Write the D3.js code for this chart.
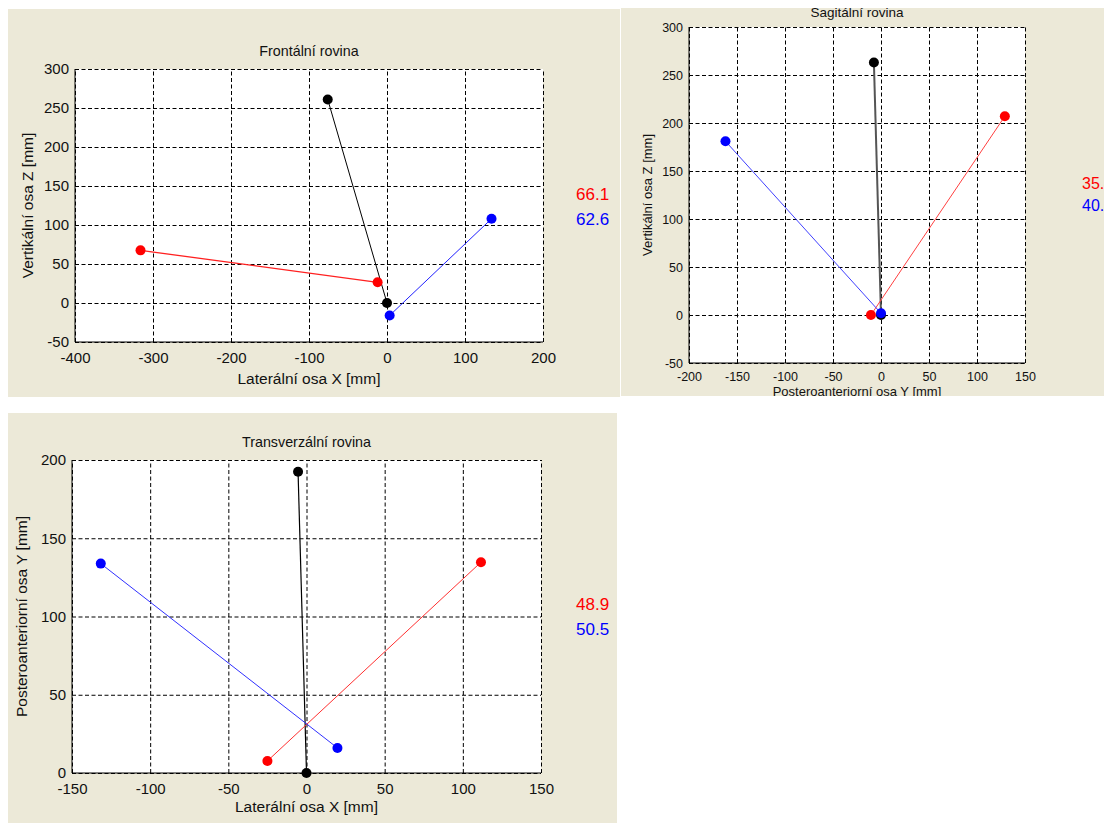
<!DOCTYPE html>
<html>
<head>
<meta charset="utf-8">
<script src="https://cdn.jsdelivr.net/npm/d3@7"></script>
<style>
  body { margin: 0; background: #fff; }
  text { font-family: "Liberation Sans", Arial, sans-serif; }
</style>
</head>
<body>
<svg width="1104" height="823"></svg>
<script>
// frontal plane (X vs Z)
var frontalBlack = [[-76, 261], [0, 0]];
var frontalRed = [[-316, 67.5], [-12, 26.5]];
var frontalBlue = [[3.4, -16], [134, 108]];
var frontalXTicks = [-400, -300, -200, -100, 0, 100, 200];
var frontalYTicks = [-50, 0, 50, 100, 150, 200, 250, 300];
var frontalValues = ["66.1", "62.6"];

// sagittal plane (Y vs Z)
var sagittalBlack = [[-7.4, 263], [0, 0]];
var sagittalRed = [[-10.5, 0], [129, 207]];
var sagittalBlue = [[-162, 181], [0, 1.8]];
var sagittalXTicks = [-200, -150, -100, -50, 0, 50, 100, 150];
var sagittalYTicks = [-50, 0, 50, 100, 150, 200, 250, 300];
var sagittalValues = ["35.4", "40.7"];

// transverse plane (X vs Y)
var transBlack = [[-5.4, 192.5], [0, 0]];
var transRed = [[-25, 7.7], [111.6, 134.7]];
var transBlue = [[-131.6, 133.8], [19.8, 16]];
var transXTicks = [-150, -100, -50, 0, 50, 100, 150];
var transYTicks = [0, 50, 100, 150, 200];
var transValues = ["48.9", "50.5"];

var svg = d3.select("svg");

var plots = {

    panel : function(cfg) {
        var clipId = "clip" + cfg.id;
        svg.append("clipPath").attr("id", clipId)
            .append("rect")
            .attr("x", cfg.box[0]).attr("y", cfg.box[1])
            .attr("width", cfg.box[2] - cfg.box[0])
            .attr("height", cfg.box[3] - cfg.box[1]);

        var g = svg.append("g").attr("clip-path", "url(#" + clipId + ")");

        g.append("rect")
            .attr("x", cfg.box[0]).attr("y", cfg.box[1])
            .attr("width", cfg.box[2] - cfg.box[0])
            .attr("height", cfg.box[3] - cfg.box[1])
            .style("fill", "#ece9d8");

        var L = cfg.plot[0], T = cfg.plot[1], R = cfg.plot[2], B = cfg.plot[3];
        var x = d3.scaleLinear().domain(d3.extent(cfg.xTicks)).range([L, R]);
        var y = d3.scaleLinear().domain(d3.extent(cfg.yTicks)).range([B, T]);

        g.append("rect")
            .attr("x", L).attr("y", T)
            .attr("width", R - L).attr("height", B - T)
            .style("fill", "#fff");

        // dotted grid
        g.append("g")
            .attr("transform", "translate(0," + B + ")")
            .call(d3.axisBottom(x).tickValues(cfg.xTicks).tickSize(-(B - T)).tickFormat(""))
            .call(function(s) { s.select(".domain").remove(); })
            .selectAll("line")
            .style("stroke", "#000")
            .style("stroke-dasharray", "4,2.5");
        g.append("g")
            .attr("transform", "translate(" + L + ",0)")
            .call(d3.axisLeft(y).tickValues(cfg.yTicks).tickSize(-(R - L)).tickFormat(""))
            .call(function(s) { s.select(".domain").remove(); })
            .selectAll("line")
            .style("stroke", "#000")
            .style("stroke-dasharray", "4,2.5");

        // solid left/bottom axes
        g.append("line").attr("x1", L).attr("x2", L).attr("y1", T).attr("y2", B)
            .style("stroke", "#000");
        g.append("line").attr("x1", L).attr("x2", R).attr("y1", B).attr("y2", B)
            .style("stroke", "#000");

        // tick labels
        var xl = g.append("g")
            .attr("transform", "translate(0," + B + ")")
            .call(d3.axisBottom(x).tickValues(cfg.xTicks).tickSize(0).tickPadding(cfg.fs * 0.7)
                .tickFormat(function(d) { return String(d); }));
        xl.select(".domain").remove();
        xl.selectAll("text").style("font-size", cfg.fs + "px").style("font-family", "Liberation Sans, Arial").style("fill", "#111");

        var yl = g.append("g")
            .attr("transform", "translate(" + L + ",0)")
            .call(d3.axisLeft(y).tickValues(cfg.yTicks).tickSize(0).tickPadding(6)
                .tickFormat(function(d) { return String(d); }));
        yl.select(".domain").remove();
        yl.selectAll("text").style("font-size", cfg.fs + "px").style("font-family", "Liberation Sans, Arial").style("fill", "#111");

        // title and axis labels
        g.append("text")
            .attr("x", (L + R) / 2).attr("y", cfg.titleY)
            .style("text-anchor", "middle")
            .style("font-size", cfg.tfs + "px")
            .style("fill", "#111")
            .text(cfg.title);
        g.append("text")
            .attr("x", (L + R) / 2).attr("y", cfg.xLabelY)
            .style("text-anchor", "middle")
            .style("font-size", cfg.lfs + "px")
            .style("fill", "#111")
            .text(cfg.xLabel);
        g.append("text")
            .attr("transform", "translate(" + cfg.yLabelX + "," + (T + B) / 2 + ") rotate(-90)")
            .style("text-anchor", "middle")
            .style("font-size", cfg.lfs + "px")
            .style("fill", "#111")
            .text(cfg.yLabel);

        // segments
        var line = d3.line().x(function(d) { return x(d[0]); }).y(function(d) { return y(d[1]); });
        cfg.series.forEach(function(s) {
            g.append("path")
                .datum(s.data)
                .attr("d", line)
                .style("fill", "none")
                .style("stroke", s.line)
                .style("stroke-width", s.width);
            g.selectAll(null)
                .data(s.data)
                .enter()
                .append("circle")
                .attr("cx", function(d) { return x(d[0]); })
                .attr("cy", function(d) { return y(d[1]); })
                .attr("r", 5)
                .style("fill", s.color);
        });

        // side values
        g.selectAll(null)
            .data(cfg.values)
            .enter()
            .append("text")
            .attr("x", cfg.valuesPos[0])
            .attr("y", function(d, i) { return cfg.valuesPos[1] + i * cfg.valuesGap; })
            .style("font-size", cfg.valuesFs + "px")
            .style("fill", function(d, i) { return i == 0 ? "#ff0000" : "#0000ff"; })
            .text(function(d) { return d; });
    }
};

plots.panel({
    id: 1,
    box: [8, 9, 620, 397],
    plot: [75, 69, 543, 342],
    xTicks: frontalXTicks, yTicks: frontalYTicks,
    fs: 15, tfs: 14.3, lfs: 15.5,
    title: "Frontální rovina", titleY: 56,
    xLabel: "Laterální osa X [mm]", xLabelY: 384,
    yLabel: "Vertikální osa Z [mm]",
    yLabelX: 33,
    series: [
        { data: frontalBlack, color: "#000", line: "#000", width: 1 },
        { data: frontalRed, color: "#ff0000", line: "#ff2020", width: 1.3 },
        { data: frontalBlue, color: "#0000ff", line: "#2020ff", width: 1 }
    ],
    values: frontalValues, valuesPos: [576, 200], valuesGap: 25, valuesFs: 17
});

plots.panel({
    id: 2,
    box: [621, 8, 1104, 396],
    plot: [689, 27, 1025, 363],
    xTicks: sagittalXTicks, yTicks: sagittalYTicks,
    fs: 12.5, tfs: 13.5, lfs: 13,
    title: "Sagitální rovina", titleY: 17,
    xLabel: "Posteroanteriorní osa Y [mm]", xLabelY: 396,
    yLabelX: 652,
    yLabel: "Vertikální osa Z [mm]",
    series: [
        { data: sagittalBlack, color: "#000", line: "#555", width: 2 },
        { data: sagittalRed, color: "#ff0000", line: "#ff4040", width: 1 },
        { data: sagittalBlue, color: "#0000ff", line: "#4040ff", width: 1 }
    ],
    values: sagittalValues, valuesPos: [1082, 189], valuesGap: 22, valuesFs: 16
});

plots.panel({
    id: 3,
    box: [8, 413, 617, 823],
    plot: [72, 460, 541, 773],
    xTicks: transXTicks, yTicks: transYTicks,
    fs: 15, tfs: 14.3, lfs: 15.5,
    title: "Transverzální rovina", titleY: 447,
    xLabel: "Laterální osa X [mm]", xLabelY: 812,
    yLabel: "Posteroanteriorní osa Y [mm]",
    yLabelX: 27,
    series: [
        { data: transBlack, color: "#000", line: "#000", width: 1.2 },
        { data: transRed, color: "#ff0000", line: "#ff3030", width: 1 },
        { data: transBlue, color: "#0000ff", line: "#3030ff", width: 1 }
    ],
    values: transValues, valuesPos: [576, 610], valuesGap: 25, valuesFs: 17
});
</script>
</body>
</html>
